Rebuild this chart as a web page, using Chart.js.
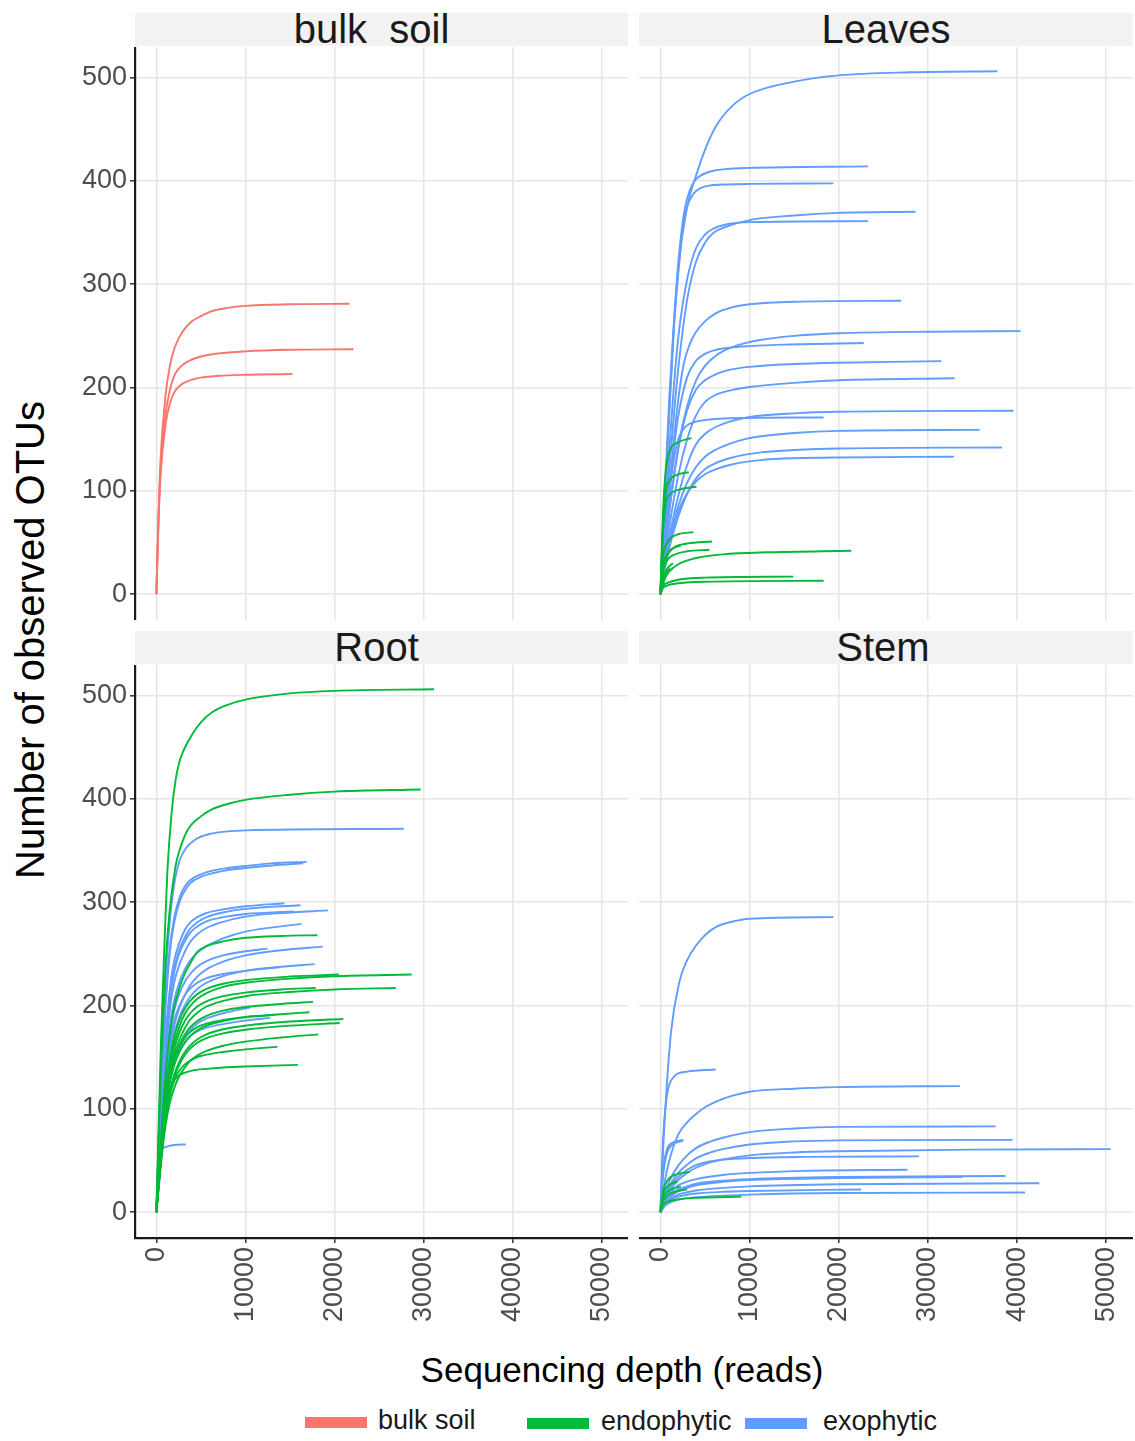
<!DOCTYPE html>
<html>
<head>
<meta charset="utf-8">
<script src="https://cdn.jsdelivr.net/npm/chart.js@4.4.1/dist/chart.umd.min.js"></script>
<style>
  body { margin: 0; background: #fff; font-family: "Liberation Sans", Arial, sans-serif; }
  #wrap { position: relative; width: 1135px; height: 1441px; overflow: hidden; }
  canvas { position: absolute; }
  .strip { position: absolute; background: #f2f2f2; color: #1a1a1a; font-size: 40px; box-sizing: border-box;
           line-height: 33px; height: 33px; text-align: center; white-space: pre; }
  .lab { position: absolute; white-space: pre; }
  .key { position: absolute; height: 11px; width: 62px; }
</style>
</head>
<body>
<div id="wrap">
  <div class="strip" style="left:135px;top:13px;width:493px;padding-right:20px;">bulk  soil</div>
  <div class="strip" style="left:639px;top:13px;width:494px;">Leaves</div>
  <div class="strip" style="left:135px;top:631px;width:493px;padding-right:10px;">Root</div>
  <div class="strip" style="left:639px;top:631px;width:494px;padding-right:6px;">Stem</div>

  <canvas id="soil" width="573" height="573" style="left:55px;top:47px;"></canvas>
  <canvas id="leaves" width="494" height="573" style="left:639px;top:47px;"></canvas>
  <canvas id="root" width="573" height="673" style="left:55px;top:665px;"></canvas>
  <canvas id="stem" width="494" height="673" style="left:639px;top:665px;"></canvas>

  <div class="lab" style="left:30px;top:640px;font-size:40px;color:#000;transform:translate(-50%,-50%) rotate(-90deg);">Number of observed OTUs</div>
  <div class="lab" style="left:622px;top:1370px;font-size:35px;color:#000;transform:translate(-50%,-50%);">Sequencing depth (reads)</div>

  <div class="key" style="left:305px;top:1417px;background:#F8766D;"></div>
  <div class="lab" style="left:378px;top:1405px;font-size:27px;color:#1a1a1a;">bulk soil</div>
  <div class="key" style="left:527px;top:1418px;background:#00BA38;"></div>
  <div class="lab" style="left:601px;top:1406px;font-size:27px;color:#1a1a1a;">endophytic</div>
  <div class="key" style="left:745px;top:1418px;background:#619CFF;"></div>
  <div class="lab" style="left:823px;top:1406px;font-size:27px;color:#1a1a1a;">exophytic</div>
</div>
<script>
// tick values
const depthTicks = [0, 10000, 20000, 30000, 40000, 50000];
const otuTicks = [0, 100, 200, 300, 400, 500];

const groupColors = { 'bulk soil': '#F8766D', endophytic: '#00BA38', exophytic: '#619CFF' };

// rarefaction curves as [reads, observed OTUs]
const bulkSoilCurves = [
    [[0,0],[250,80],[500,135],[1000,190],[1500,220],[2000,237],[2600,249],[3200,257],[4000,264],[5000,269],[6300,274],[8000,277],[10000,279],[15000,280.5],[21700,281]],
    [[0,0],[250,75],[500,125],[1000,172],[1500,197],[2000,211],[2600,219],[3500,225],[5000,230],[7000,233],[10000,235],[15000,236.5],[22150,237]],
    [[0,0],[250,72],[500,118],[1000,162],[1500,184],[2000,195],[2600,201.5],[3500,206],[5000,209.5],[7000,211.3],[10000,212.3],[15300,213]]
];

const leavesExo = [
    [[0,0],[500,100],[1000,190],[2000,315],[3000,375],[4000,405],[5000,430],[6250,453],[8000,472],[10000,484],[15000,496],[20000,502],[28000,505],[37800,506]],
    [[0,0],[500,90],[1000,180],[1500,260],[2000,320],[2500,360],[3000,383],[3760,399],[4500,405],[5600,409],[7500,411.5],[10000,412.5],[23300,414]],
    [[0,0],[500,90],[1000,175],[1500,255],[2000,310],[2500,352],[3000,375],[3760,388],[4500,393],[5600,395.5],[7500,396.5],[10000,397],[19400,397.5]],
    [[0,0],[500,60],[1000,120],[1500,172],[2000,218],[3000,285],[4000,322],[5000,340],[6000,350],[7500,356],[10000,362],[15000,366.5],[20000,369],[28600,370]],
    [[0,0],[500,70],[1000,140],[1500,200],[2000,248],[3000,305],[4000,335],[5000,348],[6000,354],[7500,358],[10000,360],[23300,361]],
    [[0,0],[500,50],[1000,100],[1500,148],[2000,188],[2600,222],[3200,240],[4000,254],[5000,264],[6250,272],[8000,277.5],[10000,280.5],[15000,283],[27000,284]],
    [[0,0],[500,40],[1000,80],[2000,142],[3000,182],[4000,207],[5000,221],[6250,231],[7750,238],[9500,243],[11500,246.5],[15000,250],[20000,252.5],[30000,254],[40400,254.5]],
    [[0,0],[500,50],[1000,100],[1500,140],[2000,172],[3000,210],[4000,226],[5000,232.5],[6000,236],[7750,238.5],[10000,240],[14000,241.5],[22800,243]],
    [[0,0],[500,40],[1000,80],[2000,140],[3000,178],[4000,198],[5000,207],[6250,213],[8000,217.5],[10000,220],[15000,222.7],[20000,224],[31500,225.5]],
    [[0,0],[500,35],[1000,65],[2000,115],[3000,150],[4000,173],[5000,186],[6250,193],[8000,197.5],[10000,200.5],[15000,204.5],[20000,207],[33000,209]],
    [[0,0],[500,30],[1000,55],[2000,95],[3000,125],[4000,145],[5000,155],[6250,162],[7750,167],[10000,171.5],[15000,175],[20000,176.5],[39600,177.5]],
    [[0,0],[500,45],[1000,95],[1500,130],[2000,150],[2600,160],[3200,164.5],[4000,167],[5500,169],[7750,170.2],[18300,171]],
    [[0,0],[500,28],[1000,50],[2000,85],[3000,108],[4000,123],[5000,133],[6250,140],[7750,145.5],[9500,150],[11500,153],[15000,156],[20000,158],[35800,159]],
    [[0,0],[500,25],[1000,45],[2000,75],[3000,97],[4000,112],[5000,121],[6250,127],[7750,131.5],[9500,135],[11500,137.5],[15000,139.5],[20000,141],[38300,142]],
    [[0,0],[500,28],[1000,50],[2000,80],[3000,98],[4000,109],[5000,116],[6250,121],[7750,125],[9500,128],[11500,130],[15000,131.5],[20000,132.3],[32900,133]]
];

const leavesEndo = [
    [[0,0],[300,80],[600,120],[1000,138],[2000,147],[3480,151]],
    [[0,0],[300,70],[600,100],[1000,110],[2000,116],[3180,118]],
    [[0,0],[300,60],[600,88],[1000,96],[2000,101],[4040,104]],
    [[0,0],[200,30],[500,45],[1000,53],[2000,58],[3700,60]],
    [[0,0],[300,25],[800,38],[1500,45],[3000,49],[5800,51]],
    [[0,0],[300,28],[700,38],[1300,44],[2300,47]],
    [[0,0],[300,22],[800,33],[1500,38],[3000,41.5],[5500,43]],
    [[0,0],[500,15],[1000,22],[2000,29],[4000,35],[7000,38.5],[12000,40.5],[21400,42]],
    [[0,0],[300,15],[700,24],[1400,30]],
    [[0,0],[300,13],[600,20],[1100,25]],
    [[0,0],[300,8],[800,11],[2000,14],[5000,16],[14900,17]],
    [[0,0],[300,6],[800,8.5],[2000,10.5],[5000,12],[18300,13]]
];

const rootExo = [
    [[0,0],[500,120],[1000,220],[1600,290],[2100,322],[2600,340],[3300,352],[4450,361],[6000,366],[8000,368.5],[10000,369.5],[27800,371]],
    [[0,0],[500,110],[1000,200],[1500,255],[2000,285],[2630,305],[3200,315],[3760,321],[5000,327],[6300,330.5],[8000,333],[10000,335],[13000,337.5],[16900,339]],
    [[0,0],[500,105],[1000,192],[1500,250],[2000,280],[2630,301],[3200,311],[3760,318],[5000,324.5],[6300,328],[8000,331],[10000,333],[13000,335.5],[16500,337.5]],
    [[0,0],[500,90],[1000,165],[1500,215],[2000,243],[2600,261],[3200,273],[3760,280],[4600,285.5],[5640,289.5],[7500,293],[10000,296],[14400,299]],
    [[0,0],[500,85],[1000,158],[1500,207],[2000,235],[2600,254],[3200,266],[3760,274],[4600,280.5],[5640,285.5],[7500,290],[10000,293.5],[16200,297]],
    [[0,0],[500,80],[1000,148],[1500,195],[2000,222],[2600,240],[3200,252],[3760,261],[4600,269],[5640,275],[7500,281],[10000,286],[14000,289.5],[19300,292]],
    [[0,0],[500,85],[1000,158],[1500,205],[2000,232],[2600,251],[3200,262],[3760,270],[4600,276.5],[5640,281.5],[7500,285.5],[10000,288.5],[15400,291]],
    [[0,0],[500,75],[1000,138],[1500,180],[2000,205],[2600,223],[3200,235],[3760,243],[4600,251],[5640,257.5],[7500,265],[10000,271.5],[16300,279]],
    [[0,0],[500,65],[1000,120],[1500,157],[2000,180],[2600,198],[3200,210],[3760,219],[4600,228],[5640,235],[7500,242.5],[10000,248.5],[14000,253.5],[18700,257]],
    [[0,0],[500,70],[1000,130],[1500,170],[2000,195],[2600,212],[3200,223],[3760,230],[4600,237.5],[5640,243],[7500,248.5],[10000,252.5],[12500,255]],
    [[0,0],[500,60],[1000,113],[1500,150],[2000,172],[2600,189],[3200,200],[3760,208],[4600,216],[5640,222],[7500,228.5],[10000,233.5],[14000,237.5],[17800,240]],
    [[0,0],[500,65],[1000,123],[1500,162],[2000,185],[2600,200],[3200,210],[3760,216],[4600,222],[5640,226.5],[7500,230.5],[10000,233.5],[13800,237]],
    [[0,0],[500,55],[1000,100],[1500,130],[2000,148],[2600,161],[3200,170],[3760,176],[4600,182.5],[5640,187.5],[7500,192.5],[10500,198]],
    [[0,0],[500,55],[1000,100],[1500,128],[2000,145],[2600,157],[3200,165],[3760,170],[4600,175],[5640,178.5],[7500,182],[10000,185.5],[12800,188]],
    [[0,0],[200,35],[450,58],[1000,63],[2000,65],[3300,65.5]]
];

const rootEndo = [
    [[0,0],[250,80],[500,160],[1000,280],[1240,330],[1700,385],[2160,418],[2600,436],[3070,447],[4000,462],[5000,474],[6300,484],[8000,491],[10000,496],[15000,502],[20000,504.5],[31200,506]],
    [[0,0],[250,70],[500,135],[1000,235],[1470,290],[2160,335],[2600,350],[3530,370],[5000,383],[6300,390],[8000,395],[10000,399],[15000,404],[20000,407],[29700,409]],
    [[0,0],[500,70],[1000,130],[1500,172],[2000,198],[2600,217],[3200,231],[3760,240],[4600,252],[5640,257.5],[7500,262],[10000,265.5],[14000,267.3],[18100,268]],
    [[0,0],[500,60],[1000,110],[1500,142],[2000,163],[2600,180],[3200,192],[3760,199],[4600,206.5],[5640,212],[7500,218],[10000,222],[15000,226],[20000,228.3],[28700,230]],
    [[0,0],[500,62],[1000,115],[1500,148],[2000,170],[2600,186],[3200,197],[3760,204],[4600,211],[5640,216],[7500,221],[10000,224.5],[15000,228],[20500,230]],
    [[0,0],[500,55],[1000,100],[1500,132],[2000,152],[2600,167],[3200,178],[3760,186],[4600,193],[5640,199],[7500,204.5],[10000,209],[15000,213],[20000,215.5],[26900,217]],
    [[0,0],[500,58],[1000,105],[1500,137],[2000,158],[2600,174],[3200,185],[3760,192],[4600,199],[5640,204],[7500,209],[10000,212.5],[14000,215.5],[17900,217]],
    [[0,0],[500,55],[1000,100],[1500,129],[2000,148],[2600,162],[3200,172],[3760,178.5],[4600,185],[5640,190],[7500,195],[10000,198.5],[14000,201.5],[17600,203.5]],
    [[0,0],[500,52],[1000,95],[1500,124],[2000,142],[2600,155],[3200,164],[3760,170],[4600,176],[5640,180.5],[7500,185],[10000,188.5],[14000,191.5],[17200,193.5]],
    [[0,0],[500,55],[1000,100],[1500,129],[2000,147],[2600,160],[3200,168.5],[3760,174],[4600,179],[5640,182.5],[7500,186],[10000,189],[13300,191]],
    [[0,0],[500,50],[1000,90],[1500,116],[2000,133],[2600,146],[3200,155],[3760,161],[4600,167],[5640,172],[7500,177],[10000,180.5],[15000,184.5],[21000,187]],
    [[0,0],[500,48],[1000,88],[1500,113],[2000,130],[2600,143],[3200,152],[3760,158],[4600,164],[5640,168.5],[7500,173],[10000,176.5],[15000,180.5],[20600,183]],
    [[0,0],[500,45],[1000,82],[1500,105],[2000,120],[2600,132],[3200,140],[3760,146],[4600,151.5],[5640,156],[7500,161],[10000,165],[14000,169],[18200,172]],
    [[0,0],[500,50],[1000,90],[1500,113],[2000,127],[2600,137],[3200,143],[3760,146.5],[4600,150],[5640,152.5],[7500,155],[10000,157.5],[13600,160]],
    [[0,0],[500,60],[1000,98],[1570,120],[2000,127.5],[2600,132.5],[3200,135],[4000,137],[5600,138.7],[7500,140],[10000,141],[15900,142.5]]
];

const stemExo = [
    [[0,0],[300,60],[700,120],[1200,175],[2130,223],[3000,244],[4000,258],[5000,268],[6250,276],[8000,281],[10000,284],[19400,285.5]],
    [[0,0],[300,70],[640,107],[1400,130],[3000,136],[6200,138]],
    [[0,0],[500,30],[1000,50],[2000,75],[3000,87],[4000,95],[5000,101.5],[6250,107],[8000,112.5],[10000,116.5],[15000,119.5],[20000,121],[33600,122]],
    [[0,0],[500,18],[1000,30],[2000,45],[3000,55],[4000,62],[5500,68],[7000,72],[10000,77.5],[15000,81],[20000,82.5],[37600,83]],
    [[0,0],[500,15],[1000,25],[2000,38],[3000,46],[4000,52],[5500,57.5],[7000,61],[10000,65.5],[15000,68.5],[20000,69.5],[39500,70]],
    [[0,0],[300,40],[700,60],[1300,67],[2600,70]],
    [[0,0],[300,35],[700,56],[1300,65],[2500,69]],
    [[0,0],[500,12],[1000,20],[2000,31],[3000,38],[4000,43],[5500,48],[7000,51],[10000,55],[15000,57.8],[20000,59],[35000,60.5],[50500,61]],
    [[0,0],[500,14],[1000,23],[2000,34],[3000,41],[4000,45.5],[5500,49],[7000,50.8],[10000,52.4],[16000,53.5],[29000,54]],
    [[0,0],[500,12],[1000,18],[2000,26],[3000,29.5],[4000,32],[7000,36],[10000,38],[16000,40],[27700,41]],
    [[0,0],[500,9],[1000,14],[2000,20],[3000,23.5],[4000,26],[7000,29.3],[10000,31],[20000,33],[33900,34]],
    [[0,0],[500,10],[1000,15],[2000,22],[3000,25],[4000,27.5],[7000,30.5],[10000,32],[20000,34],[38700,35]],
    [[0,0],[500,8],[1000,12],[2000,17],[3000,19.3],[4000,21],[7000,23.5],[10000,25],[20000,27],[42500,28]],
    [[0,0],[500,9],[1000,12],[2000,15],[3000,16.8],[4000,18],[7000,19.7],[10000,20.5],[22500,22]],
    [[0,0],[500,6],[1000,9],[2000,12],[3000,13.5],[4000,14.5],[7000,16],[10000,17],[20000,18.5],[40900,19]]
];

const stemEndo = [
    [[0,0],[300,20],[800,31],[1600,36],[3300,39]],
    [[0,0],[300,18],[800,25],[1900,30]],
    [[0,0],[300,14],[800,20],[2300,25]],
    [[0,0],[300,11],[800,16],[1600,20],[3000,22]],
    [[0,0],[300,7],[800,10],[2000,12.5],[4500,14],[9100,15]]
];

const gridColor = '#e6e6e6';
const tickFont = { family: '"Liberation Sans", Arial, sans-serif', size: 27 };

function toDatasets(curves, group) {
    return curves.map(c => ({
        label: group,
        data: c.map(p => ({ x: p[0], y: p[1] })),
        borderColor: groupColors[group],
        borderWidth: 1.9,
        pointRadius: 0,
        fill: false,
        cubicInterpolationMode: 'monotone'
    }));
}

function drawPanel(id, datasets, showY, showX) {
    new Chart(document.getElementById(id), {
        type: 'line',
        data: { datasets: datasets },
        options: {
            responsive: false,
            animation: false,
            events: [],
            layout: { padding: 0 },
            plugins: { legend: { display: false }, tooltip: { enabled: false } },
            scales: {
                x: {
                    type: 'linear',
                    min: -2400,
                    max: 53000,
                    afterBuildTicks: s => { s.ticks = depthTicks.map(v => ({ value: v })); },
                    afterFit: s => { s.height = showX ? 100 : 0; s.paddingLeft = 0; s.paddingRight = 0; },
                    grid: { color: gridColor, lineWidth: 1.6, drawTicks: showX, tickLength: 5, tickColor: '#333333', tickWidth: 1.5 },
                    border: { display: showX, color: '#1a1a1a', width: 2.2 },
                    ticks: {
                        display: showX, minRotation: 90, maxRotation: 90, autoSkip: false, padding: 4,
                        color: '#4d4d4d', font: tickFont,
                        callback: v => String(v)
                    }
                },
                y: {
                    type: 'linear',
                    min: -25,
                    max: 529.5,
                    afterBuildTicks: s => { s.ticks = otuTicks.map(v => ({ value: v })); },
                    afterFit: s => { s.width = showY ? 80 : 0; s.paddingTop = 0; s.paddingBottom = 0; },
                    grid: { color: gridColor, lineWidth: 1.6, drawTicks: showY, tickLength: 5, tickColor: '#333333', tickWidth: 1.5 },
                    border: { display: showY, color: '#1a1a1a', width: 2.2 },
                    ticks: { display: showY, autoSkip: false, padding: 3, color: '#4d4d4d', font: tickFont, callback: v => String(v) }
                }
            }
        }
    });
}

// endophytic first so it sits on top of exophytic
drawPanel('soil', toDatasets(bulkSoilCurves, 'bulk soil'), true, false);
drawPanel('leaves', toDatasets(leavesEndo, 'endophytic').concat(toDatasets(leavesExo, 'exophytic')), false, false);
drawPanel('root', toDatasets(rootEndo, 'endophytic').concat(toDatasets(rootExo, 'exophytic')), true, true);
drawPanel('stem', toDatasets(stemEndo, 'endophytic').concat(toDatasets(stemExo, 'exophytic')), false, true);
</script>
</body>
</html>
